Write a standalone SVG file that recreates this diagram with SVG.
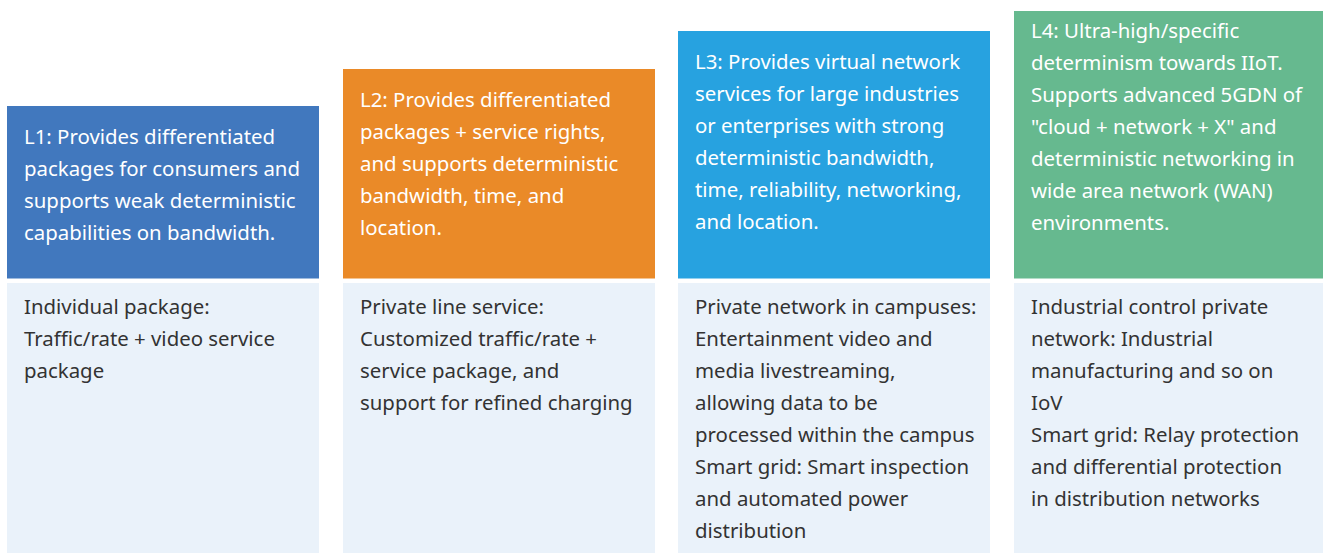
<svg xmlns="http://www.w3.org/2000/svg" width="1323" height="553" viewBox="0 0 1323 553">
<style>
.h{font-family:"Noto Sans","Open Sans",sans-serif;font-size:20.4px;fill:#ffffff}
.b{font-family:"Noto Sans","Open Sans",sans-serif;font-size:20.4px;fill:#333333}
.bg{fill:#eaf2fa}
</style>
<rect width="1323" height="553" fill="#ffffff"/>
<g id="col1">
<rect x="7" y="106" width="312" height="172.5" fill="#4178be"/>
<rect class="bg" x="7" y="283" width="312" height="270"/>
<text class="h" x="24" y="144"><tspan x="24">L1: Provides differentiated</tspan><tspan x="24" dy="32">packages for consumers and</tspan><tspan x="24" dy="32">supports weak deterministic</tspan><tspan x="24" dy="32">capabilities on bandwidth.</tspan></text>
<text class="b" x="24" y="314"><tspan x="24">Individual package:</tspan><tspan x="24" dy="32">Traffic/rate + video service</tspan><tspan x="24" dy="32">package</tspan></text>
</g>
<g id="col2">
<rect x="343" y="69" width="312" height="209.5" fill="#ea8a28"/>
<rect class="bg" x="343" y="283" width="312" height="270"/>
<text class="h" x="360" y="107"><tspan x="360">L2: Provides differentiated</tspan><tspan x="360" dy="32">packages + service rights,</tspan><tspan x="360" dy="32">and supports deterministic</tspan><tspan x="360" dy="32">bandwidth, time, and</tspan><tspan x="360" dy="32">location.</tspan></text>
<text class="b" x="360" y="314"><tspan x="360">Private line service:</tspan><tspan x="360" dy="32">Customized traffic/rate +</tspan><tspan x="360" dy="32">service package, and</tspan><tspan x="360" dy="32">support for refined charging</tspan></text>
</g>
<g id="col3">
<rect x="678" y="31" width="312" height="247.5" fill="#27a2e0"/>
<rect class="bg" x="678" y="283" width="312" height="270"/>
<text class="h" x="695" y="69"><tspan x="695">L3: Provides virtual network</tspan><tspan x="695" dy="32">services for large industries</tspan><tspan x="695" dy="32">or enterprises with strong</tspan><tspan x="695" dy="32">deterministic bandwidth,</tspan><tspan x="695" dy="32">time, reliability, networking,</tspan><tspan x="695" dy="32">and location.</tspan></text>
<text class="b" x="695" y="314"><tspan x="695">Private network in campuses:</tspan><tspan x="695" dy="32">Entertainment video and</tspan><tspan x="695" dy="32">media livestreaming,</tspan><tspan x="695" dy="32">allowing data to be</tspan><tspan x="695" dy="32">processed within the campus</tspan><tspan x="695" dy="32">Smart grid: Smart inspection</tspan><tspan x="695" dy="32">and automated power</tspan><tspan x="695" dy="32">distribution</tspan></text>
</g>
<g id="col4">
<rect x="1014" y="11" width="312" height="267.5" fill="#66b98f"/>
<rect class="bg" x="1014" y="283" width="312" height="270"/>
<text class="h" x="1031" y="38"><tspan x="1031">L4: Ultra-high/specific</tspan><tspan x="1031" dy="32">determinism towards IIoT.</tspan><tspan x="1031" dy="32">Supports advanced 5GDN of</tspan><tspan x="1031" dy="32">"cloud + network + X" and</tspan><tspan x="1031" dy="32">deterministic networking in</tspan><tspan x="1031" dy="32">wide area network (WAN)</tspan><tspan x="1031" dy="32">environments.</tspan></text>
<text class="b" x="1031" y="314"><tspan x="1031">Industrial control private</tspan><tspan x="1031" dy="32">network: Industrial</tspan><tspan x="1031" dy="32">manufacturing and so on</tspan><tspan x="1031" dy="32">IoV</tspan><tspan x="1031" dy="32">Smart grid: Relay protection</tspan><tspan x="1031" dy="32">and differential protection</tspan><tspan x="1031" dy="32">in distribution networks</tspan></text>
</g>
<g id="connectors"></g>
</svg>
